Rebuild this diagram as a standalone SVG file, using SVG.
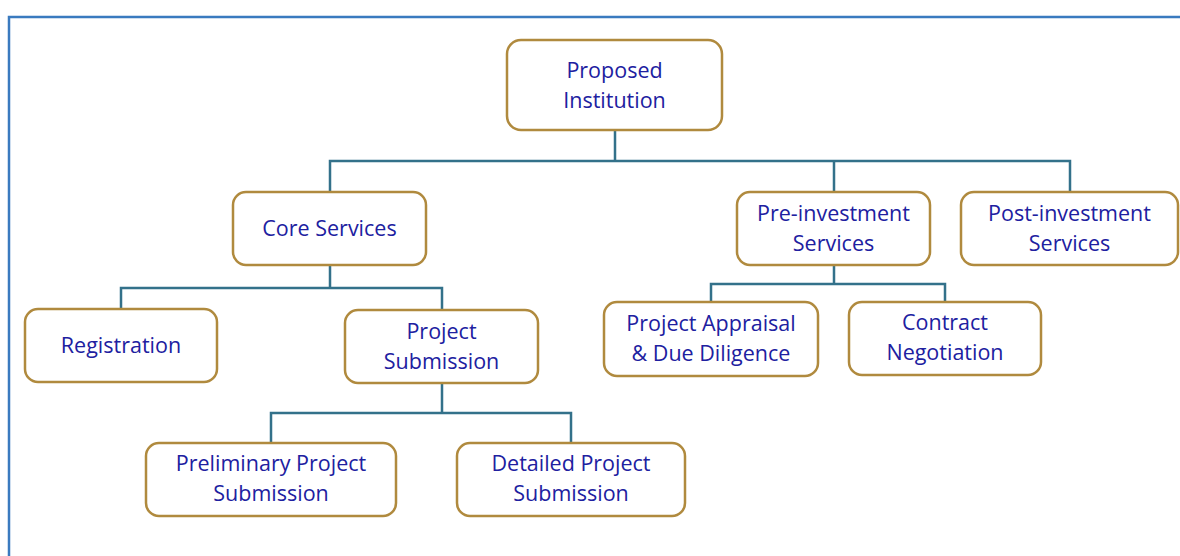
<svg xmlns="http://www.w3.org/2000/svg" width="1180" height="556" viewBox="0 0 1180 556">
  <style>
    .box { fill: #ffffff; stroke: #b08a3e; stroke-width: 2.5; }
    .lbl { font-family: "Open Sans", "Liberation Sans", sans-serif; font-size: 21.5px; fill: #2020a0; text-anchor: middle; }
    .wire { fill: none; stroke: #33718a; stroke-width: 2.5; }
  </style>
  <rect x="0" y="0" width="1180" height="556" fill="#ffffff"/>
  <!-- outer frame -->
  <path d="M9 556 V17 H1180" fill="none" stroke="#3a7abf" stroke-width="2.5"/>

  <g id="connectors">
    <path class="wire" d="M615 130 V161 M330 192 V161 H1070 V192 M834 161 V192"/>
    <path class="wire" d="M330 265 V288 M121 309 V288 H442 V310"/>
    <path class="wire" d="M442 383 V413 M271 443 V413 H571 V443"/>
    <path class="wire" d="M834 265 V284 M711 302 V284 H945 V302"/>
  </g>

  <g id="proposed-institution">
    <rect class="box" x="507" y="40" width="215" height="90" rx="14"/>
    <text class="lbl" x="614.5" y="78">Proposed</text>
    <text class="lbl" x="614.5" y="108">Institution</text>
  </g>
  <g id="core-services">
    <rect class="box" x="233" y="192" width="193" height="73" rx="13"/>
    <text class="lbl" x="329.5" y="236">Core Services</text>
  </g>
  <g id="pre-investment">
    <rect class="box" x="737" y="192" width="193" height="73" rx="13"/>
    <text class="lbl" x="833.5" y="221">Pre-investment</text>
    <text class="lbl" x="833.5" y="251">Services</text>
  </g>
  <g id="post-investment">
    <rect class="box" x="961" y="192" width="217" height="73" rx="13"/>
    <text class="lbl" x="1069.5" y="221">Post-investment</text>
    <text class="lbl" x="1069.5" y="251">Services</text>
  </g>
  <g id="registration">
    <rect class="box" x="25" y="309" width="192" height="73" rx="13"/>
    <text class="lbl" x="121" y="353">Registration</text>
  </g>
  <g id="project-submission">
    <rect class="box" x="345" y="310" width="193" height="73" rx="13"/>
    <text class="lbl" x="441.5" y="339">Project</text>
    <text class="lbl" x="441.5" y="369">Submission</text>
  </g>
  <g id="appraisal">
    <rect class="box" x="604" y="302" width="214" height="74" rx="13"/>
    <text class="lbl" x="711" y="331">Project Appraisal</text>
    <text class="lbl" x="711" y="361">&amp; Due Diligence</text>
  </g>
  <g id="contract-negotiation">
    <rect class="box" x="849" y="302" width="192" height="73" rx="13"/>
    <text class="lbl" x="945" y="330">Contract</text>
    <text class="lbl" x="945" y="360">Negotiation</text>
  </g>
  <g id="preliminary-submission">
    <rect class="box" x="146" y="443" width="250" height="73" rx="13"/>
    <text class="lbl" x="271" y="471">Preliminary Project</text>
    <text class="lbl" x="271" y="501">Submission</text>
  </g>
  <g id="detailed-submission">
    <rect class="box" x="457" y="443" width="228" height="73" rx="13"/>
    <text class="lbl" x="571" y="471">Detailed Project</text>
    <text class="lbl" x="571" y="501">Submission</text>
  </g>
</svg>
